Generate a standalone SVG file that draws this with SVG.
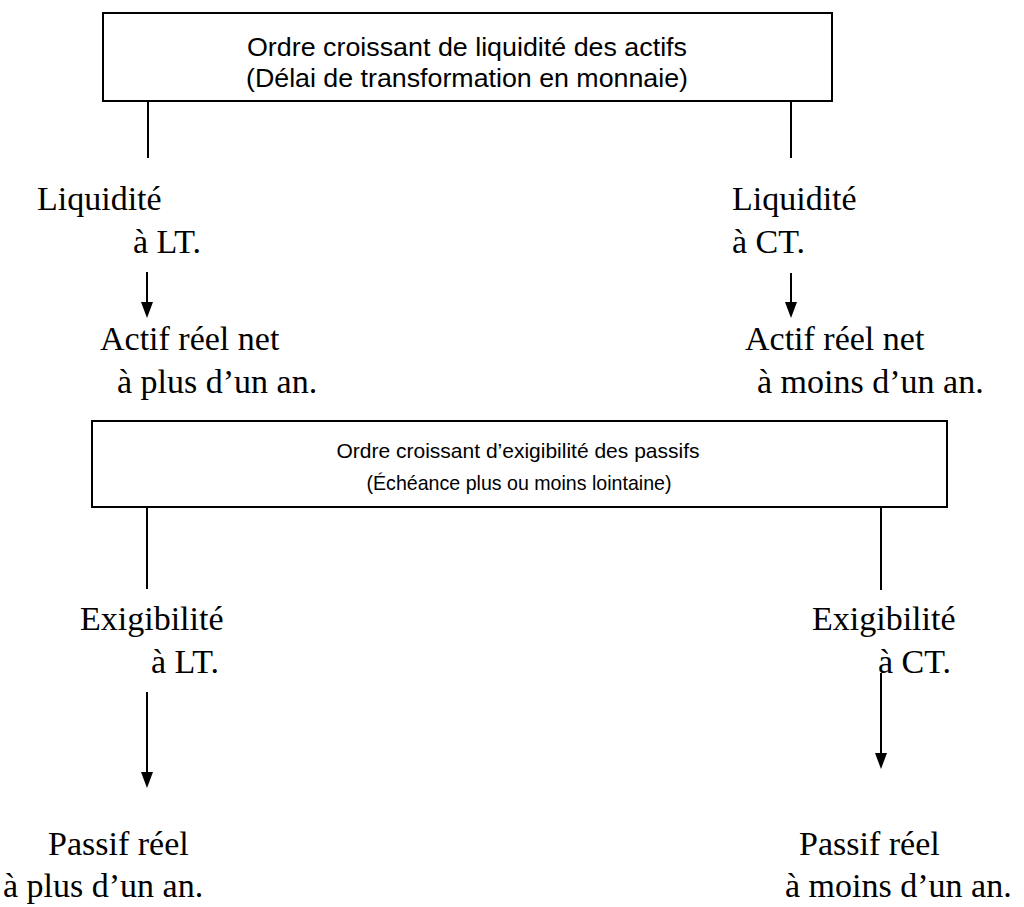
<svg xmlns="http://www.w3.org/2000/svg" width="1024" height="907" viewBox="0 0 1024 907">
<style>
.box{fill:#fff;stroke:#000;stroke-width:2}
.bt{font-family:"Liberation Sans",Arial,sans-serif;font-size:21px;fill:#000;text-anchor:middle}
.bt2{font-family:"Liberation Sans",Arial,sans-serif;font-size:25px;fill:#000;text-anchor:middle}
.t{font-family:"Liberation Serif","Times New Roman",serif;font-size:34px;fill:#000}
.ln{stroke:#000;stroke-width:2;fill:none}
.ah{fill:#000}
</style>
<rect width="1024" height="907" fill="#fff"/>
<g id="box-actifs">
<rect class="box" x="103" y="13" width="729" height="88"/>
<text class="bt2" x="467" y="56" textLength="440" lengthAdjust="spacingAndGlyphs">Ordre croissant de liquidité des actifs</text>
<text class="bt2" x="467" y="87" textLength="442" lengthAdjust="spacingAndGlyphs">(Délai de transformation en monnaie)</text>
</g>
<g id="box-passifs">
<rect class="box" x="92" y="421" width="855" height="86"/>
<text class="bt" x="518" y="458">Ordre croissant d’exigibilité des passifs</text>
<text class="bt" x="519" y="490" textLength="305" lengthAdjust="spacingAndGlyphs">(Échéance plus ou moins lointaine)</text>
</g>
<g id="connectors">
<line class="ln" x1="148" y1="101" x2="148" y2="158"/>
<line class="ln" x1="791" y1="101" x2="791" y2="158"/>
<line class="ln" x1="147" y1="272" x2="147" y2="304"/>
<path class="ah" d="M141,302 L153,302 L147,318 Z"/>
<line class="ln" x1="791" y1="273" x2="791" y2="304"/>
<path class="ah" d="M785,302 L797,302 L791,318 Z"/>
<line class="ln" x1="147" y1="507" x2="147" y2="589"/>
<line class="ln" x1="881" y1="507" x2="881" y2="590"/>
<line class="ln" x1="147" y1="692" x2="147" y2="774"/>
<path class="ah" d="M141,772 L153,772 L147,788 Z"/>
<line class="ln" x1="881" y1="673" x2="881" y2="755"/>
<path class="ah" d="M875,753 L887,753 L881,769 Z"/>
</g>
<g id="liq-lt">
<text class="t" x="37" y="210">Liquidité</text>
<text class="t" x="133" y="253">à LT.</text>
</g>
<g id="liq-ct">
<text class="t" x="732" y="210">Liquidité</text>
<text class="t" x="732" y="253">à CT.</text>
</g>
<g id="actif-lt">
<text class="t" x="100" y="350">Actif réel net</text>
<text class="t" x="117" y="393">à plus d’un an.</text>
</g>
<g id="actif-ct">
<text class="t" x="745" y="350">Actif réel net</text>
<text class="t" x="757" y="393">à moins d’un an.</text>
</g>
<g id="exi-lt">
<text class="t" x="80" y="630">Exigibilité</text>
<text class="t" x="151" y="673">à LT.</text>
</g>
<g id="exi-ct">
<text class="t" x="812" y="630">Exigibilité</text>
<text class="t" x="878" y="673">à CT.</text>
</g>
<g id="passif-lt">
<text class="t" x="48" y="855">Passif réel</text>
<text class="t" x="3" y="897">à plus d’un an.</text>
</g>
<g id="passif-ct">
<text class="t" x="799" y="855">Passif réel</text>
<text class="t" x="785" y="897">à moins d’un an.</text>
</g>
</svg>
